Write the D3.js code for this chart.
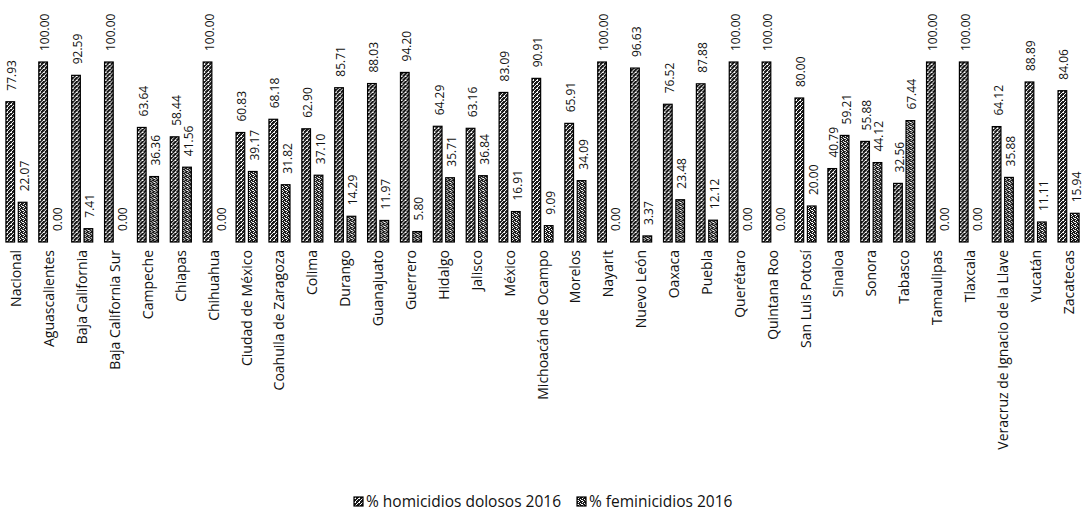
<html>
<head>
<meta charset="utf-8">
<style>
  body { margin: 0; background: #ffffff; }
  svg { display: block; }
  text { font-family: "Open Sans", "DejaVu Sans", sans-serif; fill: #111; }
</style>
<script src="https://cdn.jsdelivr.net/npm/d3@7/dist/d3.min.js"></script>
</head>
<body>
<svg id="chart"></svg>
<script>
// categories (states) and the two series
let estados = ["Nacional", "Aguascalientes", "Baja California", "Baja California Sur", "Campeche",
  "Chiapas", "Chihuahua", "Ciudad de México", "Coahuila de Zaragoza", "Colima", "Durango",
  "Guanajuato", "Guerrero", "Hidalgo", "Jalisco", "México", "Michoacán de Ocampo", "Morelos",
  "Nayarit", "Nuevo León", "Oaxaca", "Puebla", "Querétaro", "Quintana Roo", "San Luis Potosí",
  "Sinaloa", "Sonora", "Tabasco", "Tamaulipas", "Tlaxcala", "Veracruz de Ignacio de la Llave",
  "Yucatán", "Zacatecas"]

let homicidios = [77.93, 100.00, 92.59, 100.00, 63.64, 58.44, 100.00, 60.83, 68.18, 62.90, 85.71,
  88.03, 94.20, 64.29, 63.16, 83.09, 90.91, 65.91, 100.00, 96.63, 76.52, 87.88, 100.00, 100.00,
  80.00, 40.79, 55.88, 32.56, 100.00, 100.00, 64.12, 88.89, 84.06]

let feminicidios = [22.07, 0.00, 7.41, 0.00, 36.36, 41.56, 0.00, 39.17, 31.82, 37.10, 14.29,
  11.97, 5.80, 35.71, 36.84, 16.91, 9.09, 34.09, 0.00, 3.37, 23.48, 12.12, 0.00, 0.00,
  20.00, 59.21, 44.12, 67.44, 0.00, 0.00, 35.88, 11.11, 15.94]

let series = ["% homicidios dolosos 2016", "% feminicidios 2016"]
let seriesKeys = ["hom", "fem"]

let rows = estados.map((e, i) => ({ estado: e, hom: homicidios[i], fem: feminicidios[i] }))

let width = 1084
let height = 517
let svg = d3.select("#chart").attr("width", width).attr("height", height)

// scanned look: dark mottled fills with black outline
let defs = svg.append("defs")
function makePattern(id, specks) {
  let p = defs.append("pattern").attr("id", id)
    .attr("patternUnits", "userSpaceOnUse").attr("width", 4).attr("height", 4)
  p.append("rect").attr("width", 4).attr("height", 4).attr("fill", "#1a1a1a")
  specks.forEach(s => {
    p.append("rect").attr("x", s[0]).attr("y", s[1]).attr("width", s[2]).attr("height", 1).attr("fill", "#fff")
  })
}
makePattern("pat-hom", [[0, 0, 2], [2, 2, 1], [1, 3, 1], [3, 1, 1]])
makePattern("pat-fem", [[1, 0, 1], [0, 2, 2], [3, 1, 1], [2, 3, 1]])

let fills = { hom: "url(#pat-hom)", fem: "url(#pat-fem)" }

let baseY = 242
let x0 = d3.scaleBand().domain(estados).range([0, 1085]).paddingInner(0.36).paddingOuter(0.18)
let x1 = d3.scaleBand().domain(seriesKeys).range([0, x0.bandwidth()]).paddingInner(0.3)
let y = d3.scaleLinear().domain([0, 100]).range([baseY, 62])

let groups = svg.selectAll("g.grupo").data(rows).enter().append("g")
  .attr("class", "grupo")
  .attr("transform", d => "translate(" + x0(d.estado) + ",0)")

groups.selectAll("rect").data(d => seriesKeys.map(k => ({ key: k, value: d[k] })))
  .enter().append("rect")
  .attr("x", d => x1(d.key))
  .attr("y", d => y(d.value))
  .attr("width", x1.bandwidth())
  .attr("height", d => Math.max(0, baseY - y(d.value)))
  .attr("fill", d => fills[d.key])
  .attr("stroke", "#000")
  .attr("stroke-width", 1.2)

// value labels, rotated, above each bar
groups.selectAll("text.valor").data(d => seriesKeys.map(k => ({ key: k, value: d[k] })))
  .enter().append("text")
  .attr("class", "valor")
  .attr("transform", d => {
    let cx = x1(d.key) + x1.bandwidth() / 2 + 6
    let cy = y(d.value) - 11
    return "translate(" + cx + "," + cy + ") rotate(-90)"
  })
  .attr("font-size", 12)
  .text(d => d.value.toFixed(2))

// category labels
groups.append("text")
  .attr("transform", "translate(" + (x0.bandwidth() / 2 + 5) + "," + (baseY + 8) + ") rotate(-90)")
  .attr("text-anchor", "end")
  .attr("font-size", 14)
  .text(d => d.estado)

// legend
let legend = svg.append("g").attr("transform", "translate(354,502)")
let legendX = [0, 223]
series.forEach((s, i) => {
  let g = legend.append("g").attr("transform", "translate(" + legendX[i] + ",0)")
  g.append("rect").attr("x", 0).attr("y", -5).attr("width", 9).attr("height", 9)
    .attr("fill", fills[seriesKeys[i]]).attr("stroke", "#000").attr("stroke-width", 1.2)
  g.append("text").attr("x", 12).attr("y", 5).attr("font-size", 15.5).text(s)
})
</script>
</body>
</html>
